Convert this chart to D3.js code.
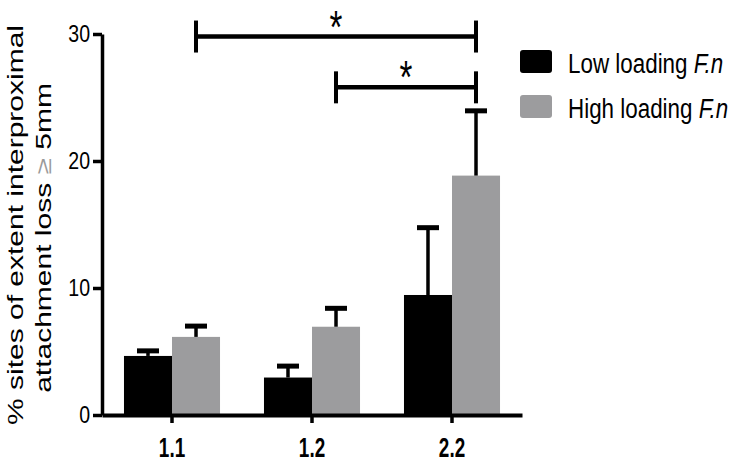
<!DOCTYPE html>
<html>
<head>
<meta charset="utf-8">
<script src="https://cdn.jsdelivr.net/npm/d3@7"></script>
<style>
  body { margin: 0; background: #fff; }
  svg { display: block; font-family: "Liberation Sans", Arial, sans-serif; }
</style>
</head>
<body>
<div id="chart"></div>
<script>
// data
let categories = ["1.1", "1.2", "2.2"];
let seriesNames = ["Low loading", "High loading"];
let lowMeans = [4.65, 2.95, 9.45];
let lowErrors = [0.4, 0.9, 5.3];
let highMeans = [6.15, 6.95, 18.85];
let highErrors = [0.85, 1.45, 5.1];
let yTicks = [0, 10, 20, 30];
// significance brackets: [from category, to category, height, label]
let brackets = [
    ["1.1", "2.2", 29.8, "*"],
    ["1.2", "2.2", 25.8, "*"]
];

let colors = { "Low loading": "#000000", "High loading": "#9c9c9e" };

let W = 741, H = 473;
let svg = d3.select("#chart").append("svg")
    .attr("width", W)
    .attr("height", H);

let x0 = d3.scaleBand()
    .domain(categories)
    .range([102, 522])
    .paddingInner(0.314)
    .paddingOuter(0.157);

let x1 = d3.scaleBand()
    .domain(seriesNames)
    .range([0, x0.bandwidth()]);

let y = d3.scaleLinear()
    .domain([0, 30])
    .range([415, 34]);

// build rows for bars
let rows = [];
categories.forEach((c, i) => {
    rows.push({ cat: c, s: "Low loading", v: lowMeans[i], e: lowErrors[i] });
    rows.push({ cat: c, s: "High loading", v: highMeans[i], e: highErrors[i] });
});

// bars
svg.append("g")
    .selectAll("rect")
    .data(rows)
    .enter()
    .append("rect")
    .attr("x", d => x0(d.cat) + x1(d.s))
    .attr("y", d => y(d.v))
    .attr("width", x1.bandwidth())
    .attr("height", d => y(0) - y(d.v))
    .attr("fill", d => colors[d.s]);

// error bars (upper only)
let err = svg.append("g");
let capW = 22;
rows.forEach(d => {
    let cx = x0(d.cat) + x1(d.s) + x1.bandwidth() / 2;
    err.append("line")
        .attr("x1", cx).attr("x2", cx)
        .attr("y1", y(d.v)).attr("y2", y(d.v + d.e))
        .attr("stroke", "#000")
        .attr("stroke-width", 3.5);
    err.append("line")
        .attr("x1", cx - capW / 2).attr("x2", cx + capW / 2)
        .attr("y1", y(d.v + d.e)).attr("y2", y(d.v + d.e))
        .attr("stroke", "#000")
        .attr("stroke-width", 5);
});

// axes
let yAxis = svg.append("g")
    .attr("transform", "translate(102,0)")
    .call(d3.axisLeft(y).tickValues(yTicks).tickSize(9).tickSizeOuter(0).tickPadding(3));

yAxis.select(".domain").attr("stroke-width", 3.5);
yAxis.selectAll(".tick line").attr("stroke-width", 3.5);
yAxis.selectAll(".tick text")
    .attr("font-size", 23)
    .attr("fill", "#000")
    .attr("font-family", "Liberation Sans, Arial, sans-serif")
    .attr("x", -12 / 0.85)
    .attr("transform", "scale(0.85,1)");

let xAxis = svg.append("g")
    .attr("transform", "translate(0," + y(0) + ")")
    .call(d3.axisBottom(x0).tickSize(8).tickSizeOuter(0).tickPadding(15));

xAxis.select(".domain").attr("stroke-width", 4);
xAxis.selectAll(".tick line").attr("stroke-width", 3.5);
xAxis.selectAll(".tick text")
    .attr("font-size", 27)
    .attr("font-weight", "bold")
    .attr("fill", "#000")
    .attr("font-family", "Liberation Sans, Arial, sans-serif")
    .attr("transform", "scale(0.7,1)");

// y title, two lines rotated, squeezed like the figure
let title = svg.append("g");
title.append("text")
    .attr("transform", "translate(23,225) scale(0.72,1) rotate(-90)")
    .attr("text-anchor", "middle")
    .attr("font-size", 30)
    .text("% sites of extent interproximal");
let t2 = title.append("text")
    .attr("transform", "translate(51,238) scale(0.72,1) rotate(-90)")
    .attr("text-anchor", "middle")
    .attr("font-size", 30);
t2.append("tspan").text("attachment loss ");
t2.append("tspan").attr("fill", "#9a9a9a").text("\u2265");
t2.append("tspan").text(" 5mm");

// significance brackets
let sig = svg.append("g");
brackets.forEach(b => {
    let xa = x0(b[0]) + x1("High loading") + x1.bandwidth() / 2;
    let xb = x0(b[1]) + x1("High loading") + x1.bandwidth() / 2;
    let yy = y(b[2]);
    sig.append("line")
        .attr("x1", xa).attr("x2", xb)
        .attr("y1", yy).attr("y2", yy)
        .attr("stroke", "#000").attr("stroke-width", 4.5);
    [xa, xb].forEach(xx => {
        sig.append("line")
            .attr("x1", xx).attr("x2", xx)
            .attr("y1", yy - 16).attr("y2", yy + 16)
            .attr("stroke", "#000").attr("stroke-width", 4);
    });
    sig.append("text")
        .attr("transform", "translate(" + ((xa + xb) / 2) + "," + (yy + 6) + ") scale(0.72,1)")
        .attr("text-anchor", "middle")
        .attr("font-size", 46)
        .text(b[3]);
});

// legend
let legend = svg.append("g").attr("transform", "translate(520,50)");
seriesNames.forEach((s, i) => {
    let g = legend.append("g").attr("transform", "translate(0," + (i * 45) + ")");
    g.append("rect")
        .attr("width", 32).attr("height", 23)
        .attr("rx", 3)
        .attr("fill", colors[s]);
    let t = g.append("text")
        .attr("transform", "translate(48,23) scale(0.8,1)")
        .attr("font-size", 28);
    t.append("tspan").text(s + " ");
    t.append("tspan").attr("font-style", "italic").text("F.n");
});
</script>
</body>
</html>
